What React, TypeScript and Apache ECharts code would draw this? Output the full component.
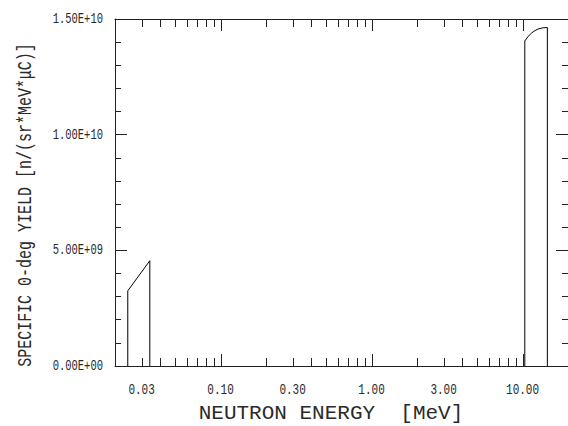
import React, { useEffect, useRef } from "react";
import * as echarts from "echarts";

// Axis ranges
const xMin = 0.02;
const xMax = 20;
const yMin = 0;
const yMax = 1.5e10;
const yInterval = 5e9;

// Tick labels
const xLabelValues = [0.03, 0.1, 0.3, 1, 3, 10];
const xLabelTexts = ["0.03", "0.10", "0.30", "1.00", "3.00", "10.00"];
const xMajorTicks = [0.1, 1, 10];
const xMinorTicks = [
  0.03, 0.04, 0.05, 0.06, 0.07, 0.08, 0.09,
  0.2, 0.3, 0.4, 0.5, 0.6, 0.7, 0.8, 0.9,
  2, 3, 4, 5, 6, 7, 8, 9,
];
const yLabelValues = [0, 5e9, 1e10, 1.5e10];
const yLabelTexts = ["0.00E+00", "5.00E+09", "1.00E+10", "1.50E+10"];

// Titles
const xTitle = "NEUTRON ENERGY  [MeV]";
const yTitle = "SPECIFIC 0-deg YIELD [n/(sr*MeV*\u03bcC)]";

// Series data (energy in MeV, yield)
const lowEnergy = [0.0243, 0.0243, 0.034, 0.034];
const lowYield = [0, 3.25e9, 4.55e9, 0];
const highEnergy = [10.35, 10.35, 10.9, 11.5, 12.1, 12.7, 13.7, 14.6, 14.6];
const highYield = [0, 1.405e10, 1.425e10, 1.44e10, 1.45e10, 1.457e10, 1.462e10, 1.463e10, 0];

const FONT = '"Liberation Mono", "DejaVu Sans Mono", monospace';
const INK = "#2a2a2a";

export default function App() {
  const ref = useRef<HTMLDivElement>(null);

  useEffect(() => {
    if (!ref.current) return;
    const chart = echarts.init(ref.current, null, { renderer: "svg" });

    const tickData = [
      ...xMajorTicks.map((v) => [v, 0, 1]),
      ...xMinorTicks.map((v) => [v, 0, 0]),
    ];

    const crisp = (x: number) => Math.round(x) + 0.5;

    const option: any = {
      animation: false,
      backgroundColor: "#fff",
      grid: { left: 115, right: -2, top: 19, bottom: 60, containLabel: false },
      xAxis: [
        {
          type: "log",
          min: xMin,
          max: xMax,
          position: "bottom",
          axisLine: { show: true, lineStyle: { color: "#222", width: 1 } },
          axisTick: { show: false },
          axisLabel: { show: false },
          splitLine: { show: false },
          minorTick: { show: false },
        },
        {
          type: "log",
          min: xMin,
          max: xMax,
          position: "top",
          axisLine: { show: true, onZero: false, lineStyle: { color: "#222", width: 1 } },
          axisTick: { show: false },
          axisLabel: { show: false },
          splitLine: { show: false },
        },
      ],
      yAxis: [
        {
          type: "value",
          min: yMin,
          max: yMax,
          interval: yInterval,
          position: "left",
          axisLine: { show: true, onZero: false, lineStyle: { color: "#222", width: 1 } },
          axisTick: { show: true, inside: true, length: 12, lineStyle: { color: "#222" } },
          minorTick: { show: true, splitNumber: 5, length: 6, lineStyle: { color: "#222" } },
          axisLabel: { show: false },
          splitLine: { show: false },
        },
        {
          type: "value",
          min: yMin,
          max: yMax,
          interval: yInterval,
          position: "right",
          axisLine: { show: true, onZero: false, lineStyle: { color: "#222", width: 1 } },
          axisTick: { show: true, inside: true, length: 12, lineStyle: { color: "#222" } },
          minorTick: { show: true, splitNumber: 5, length: 6, lineStyle: { color: "#222" } },
          axisLabel: { show: false },
          splitLine: { show: false },
        },
      ],
      series: [
        {
          type: "line",
          xAxisIndex: 0,
          yAxisIndex: 0,
          data: lowEnergy.map((e, i) => [e, lowYield[i]]),
          symbol: "none",
          lineStyle: { color: "#000", width: 1 },
          smooth: false,
          silent: true,
        },
        {
          type: "line",
          xAxisIndex: 0,
          yAxisIndex: 0,
          data: highEnergy.map((e, i) => [e, highYield[i]]),
          symbol: "none",
          lineStyle: { color: "#000", width: 1 },
          smooth: false,
          silent: true,
        },
        {
          type: "custom",
          xAxisIndex: 0,
          yAxisIndex: 0,
          clip: false,
          silent: true,
          data: tickData,
          renderItem: (_p: any, api: any) => {
            const v = api.value(0);
            const major = api.value(2) === 1;
            const b = api.coord([v, yMin]);
            const t = api.coord([v, yMax]);
            const len = major ? 12 : 8;
            const x = crisp(b[0]);
            return {
              type: "group",
              children: [
                { type: "line", shape: { x1: x, y1: b[1], x2: x, y2: b[1] - len }, style: { stroke: "#222", lineWidth: 1 } },
                { type: "line", shape: { x1: x, y1: t[1], x2: x, y2: t[1] + len }, style: { stroke: "#222", lineWidth: 1 } },
              ],
            };
          },
        },
        {
          type: "custom",
          xAxisIndex: 0,
          yAxisIndex: 0,
          clip: false,
          silent: true,
          data: xLabelValues.map((v, i) => [v, 0, i]),
          renderItem: (_p: any, api: any) => {
            const v = api.value(0);
            const i = api.value(2);
            const b = api.coord([v, yMin]);
            return {
              type: "text",
              x: b[0],
              y: b[1] + 24,
              scaleY: 1.4,
              style: {
                text: xLabelTexts[i],
                font: `11px ${FONT}`,
                fill: INK,
                textAlign: "center",
                textVerticalAlign: "middle",
              },
            };
          },
        },
        {
          type: "custom",
          xAxisIndex: 0,
          yAxisIndex: 0,
          clip: false,
          silent: true,
          data: yLabelValues.map((v, i) => [xMin, v, i]),
          renderItem: (_p: any, api: any) => {
            const v = api.value(1);
            const i = api.value(2);
            const p = api.coord([xMin, v]);
            return {
              type: "text",
              x: p[0] - 12,
              y: p[1],
              scaleY: 1.45,
              style: {
                text: yLabelTexts[i],
                font: `10.5px ${FONT}`,
                fill: INK,
                textAlign: "right",
                textVerticalAlign: "middle",
              },
            };
          },
        },
      ],
      graphic: [
        {
          type: "text",
          x: 331,
          y: 413,
          style: {
            text: xTitle,
            font: `21px ${FONT}`,
            fill: INK,
            textAlign: "center",
            textVerticalAlign: "middle",
          },
        },
        {
          type: "text",
          x: 25,
          y: 205,
          rotation: Math.PI / 2,
          scaleY: 1.35,
          style: {
            text: yTitle,
            font: `15px ${FONT}`,
            fill: INK,
            textAlign: "center",
            textVerticalAlign: "middle",
          },
        },
      ],
    };

    chart.setOption(option);
    return () => chart.dispose();
  }, []);

  return (
    <div
      ref={ref}
      style={{ position: "fixed", left: 0, top: 0, width: 568, height: 426 }}
    />
  );
}
